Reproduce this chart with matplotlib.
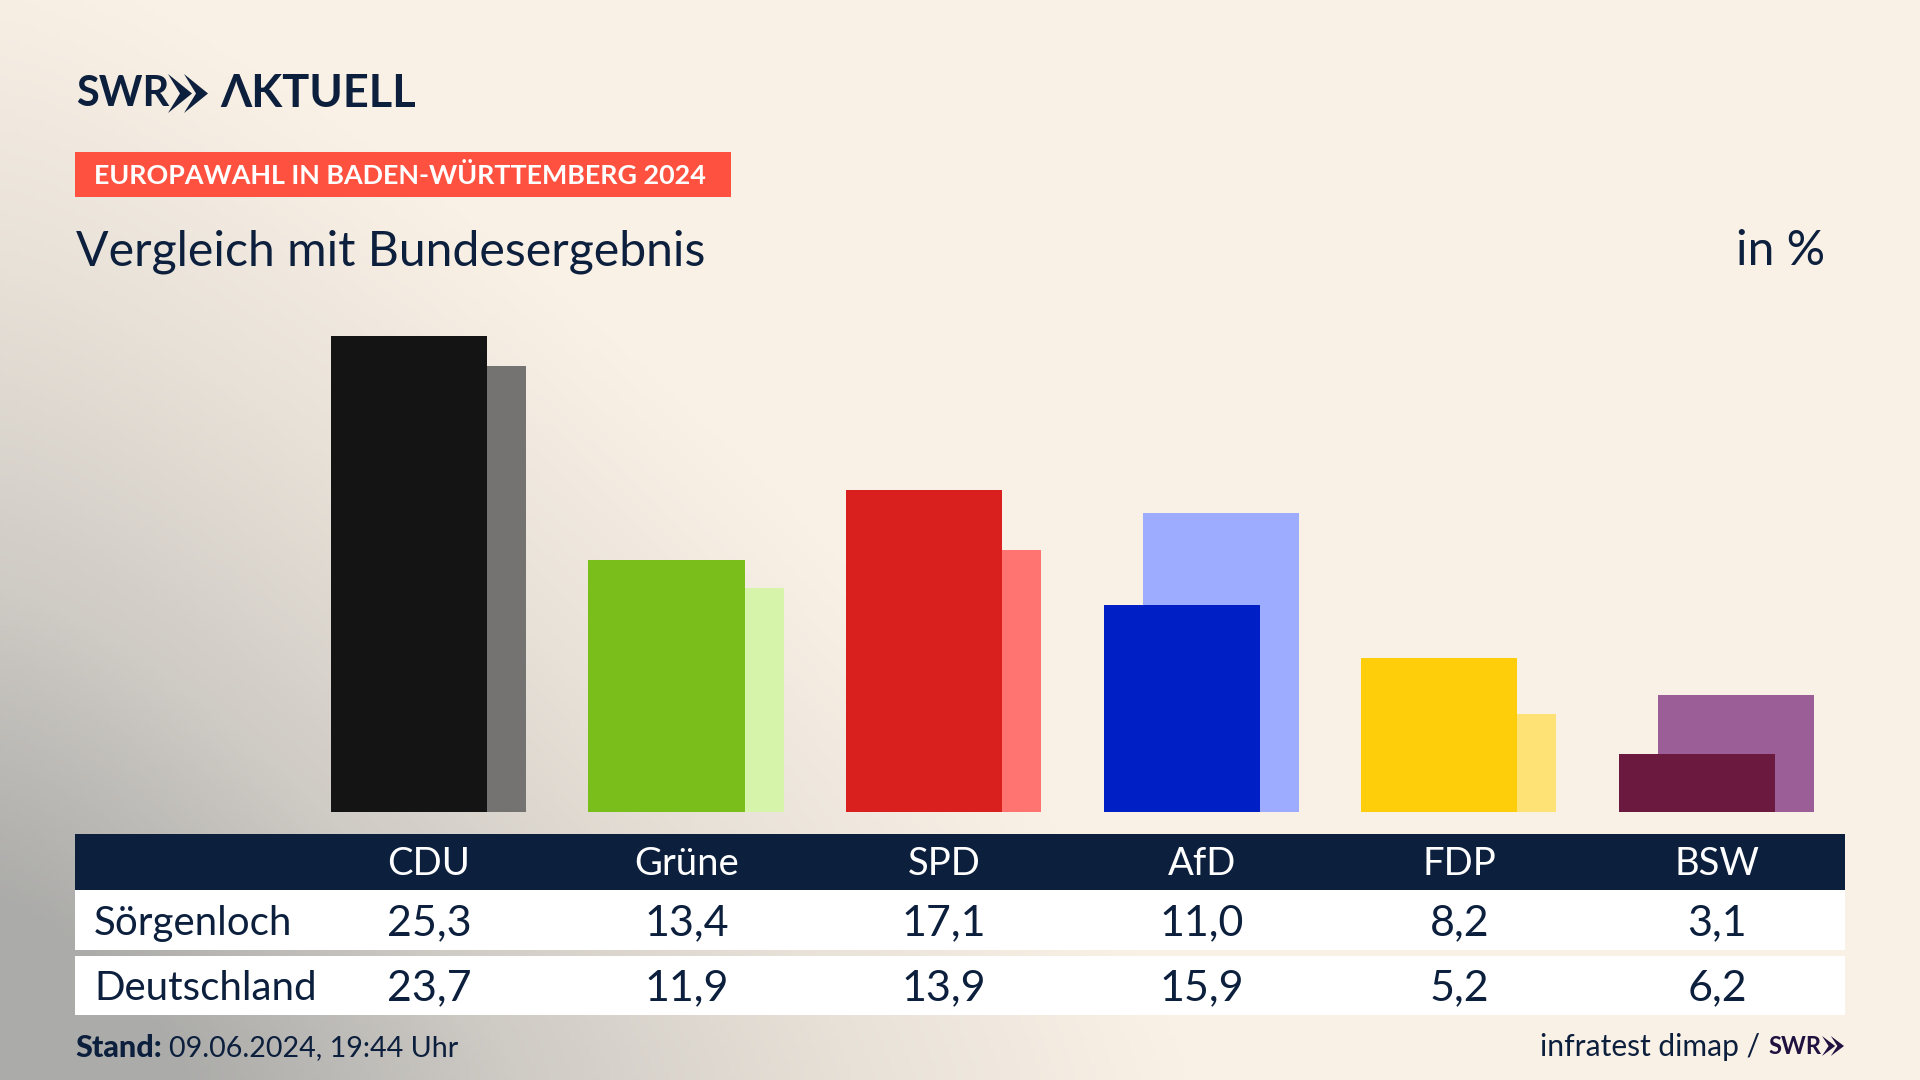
import numpy as np
import matplotlib
matplotlib.use("Agg")
import matplotlib.pyplot as plt
from matplotlib.colors import LinearSegmentedColormap
from matplotlib.patches import Rectangle, Polygon

parties = ["CDU", "Grüne", "SPD", "AfD", "FDP", "BSW"]
soergenloch = [25.3, 13.4, 17.1, 11.0, 8.2, 3.1]
deutschland = [23.7, 11.9, 13.9, 15.9, 5.2, 6.2]
dark_colors = ["#141414", "#79BE1B", "#D9201F", "#0020C6", "#FFCE0B", "#6B193F"]
light_colors = ["#747371", "#D7F5AA", "#FF7470", "#9EACFF", "#FFE276", "#9C5E96"]
row_names = ["Sörgenloch", "Deutschland"]

NAVY = "#0C1F3D"
FONT = "Lato"

plt.rcParams["font.family"] = [FONT, "DejaVu Sans"]
fig = plt.figure(figsize=(19.2, 10.8), dpi=100)

# whole figure in pixels, y going down
bg = fig.add_axes([0, 0, 1, 1])
bg.set_xlim(0, 1920)
bg.set_ylim(1080, 0)
bg.axis("off")

# grey corner bottom left fading to cream
xx, yy = np.meshgrid(np.linspace(0, 1, 384), np.linspace(0, 1, 216))
dist = ((xx / 0.62) ** 1.3 + ((1 - yy) / 1.05) ** 1.3) ** (1 / 1.3)
shade = np.clip(1 - dist, 0, 1)
cmap = LinearSegmentedColormap.from_list("bg", ["#FAF1E6", "#E8E1D8", "#CFCBC5", "#ABABA9"])
bg.imshow(shade, extent=[0, 1920, 1080, 0], cmap=cmap, vmin=0, vmax=0.85, aspect="auto", zorder=0)


def chevrons(x, y, w, h, color):
    for i in range(2):
        x0 = x + i * w * 0.4
        pts = [(x0, y), (x0 + w * 0.6, y + h / 2), (x0, y + h), (x0 + w * 0.3, y + h / 2)]
        bg.add_patch(Polygon(pts, color=color, lw=0, zorder=3))


# logo
bg.text(76, 94, "SWR", fontsize=30, fontweight="bold", color=NAVY, va="center", ha="left")
chevrons(168, 74, 40, 39, NAVY)
bg.text(220, 94, "ΛKTUELL", fontsize=32.5, fontweight="bold", color=NAVY, va="center", ha="left")

# tag and title
bg.add_patch(Rectangle((75, 152), 656, 45, color="#FF513F", lw=0, zorder=2))
bg.text(94, 176, "EUROPAWAHL IN BADEN-WÜRTTEMBERG 2024", fontsize=19.4, fontweight="bold", color="white", va="center", ha="left", zorder=3)
bg.text(76, 265, "Vergleich mit Bundesergebnis", fontsize=34.7, color=NAVY, va="baseline", ha="left")
bg.text(1825, 265, "in %", fontsize=34.6, color=NAVY, va="baseline", ha="right")

# bars, x in category index, y in percent
ax = fig.add_axes([0, (1080 - 812) / 1080, 1, 512 / 1080])
ax.patch.set_alpha(0)
ax.set_xlim(-428.4 / 257.6, (1920 - 428.4) / 257.6)
ax.set_ylim(0, 512 / 18.83)
ax.axis("off")
x = np.arange(len(parties))
ax.bar(x + 0.0757, deutschland, width=0.606, color=light_colors, zorder=2)
ax.bar(x - 0.0757, soergenloch, width=0.606, color=dark_colors, zorder=3)

# table
bg.add_patch(Rectangle((75, 834), 1770, 56, color=NAVY, lw=0, zorder=2))
bg.add_patch(Rectangle((75, 890), 1770, 60, color="white", lw=0, zorder=2))
bg.add_patch(Rectangle((75, 956), 1770, 59, color="white", lw=0, zorder=2))
for i, name in enumerate(parties):
    cx = 429 + 257.6 * i
    bg.text(cx, 864, name, fontsize=27.5, color="white", ha="center", va="center", zorder=3)
    bg.text(cx, 923, f"{soergenloch[i]:.1f}".replace(".", ","), fontsize=31, color=NAVY, ha="center", va="center", zorder=3)
    bg.text(cx, 988, f"{deutschland[i]:.1f}".replace(".", ","), fontsize=31, color=NAVY, ha="center", va="center", zorder=3)
bg.text(94, 923, row_names[0], fontsize=29, color=NAVY, ha="left", va="center", zorder=3)
bg.text(94, 988, row_names[1], fontsize=29, color=NAVY, ha="left", va="center", zorder=3)

# footer
bg.text(75, 1048, "Stand:", fontsize=22, fontweight="black", color=NAVY, ha="left", va="center")
bg.text(169, 1048, "09.06.2024, 19:44 Uhr", fontsize=20.6, color=NAVY, ha="left", va="center")
bg.text(1760, 1047, "infratest dimap /", fontsize=21.6, color=NAVY, ha="right", va="center")
bg.text(1768, 1046, "SWR", fontsize=17, fontweight="bold", color="#1F1140", ha="left", va="center")
chevrons(1822, 1036, 22, 20, "#1F1140")

fig.savefig("out.png", dpi=100)
